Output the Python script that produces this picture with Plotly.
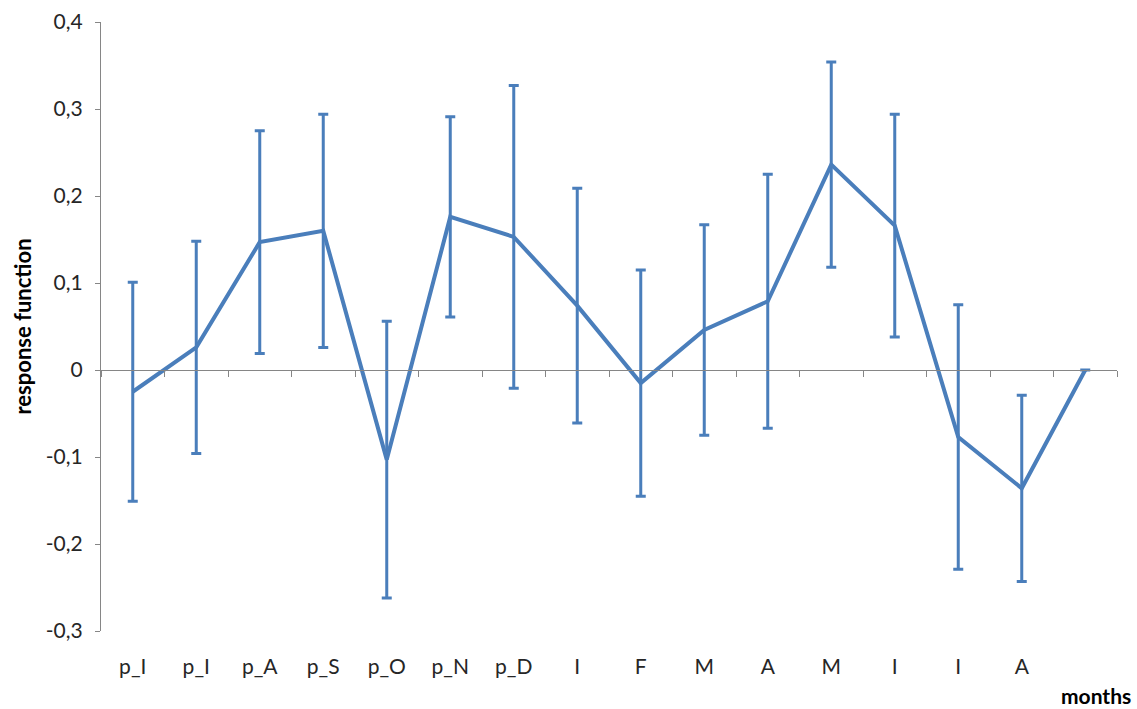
import plotly.graph_objects as go

# Monthly response function with confidence bars
months = ["p_I", "p_I", "p_A", "p_S", "p_O", "p_N", "p_D",
          "I", "F", "M", "A", "M", "I", "I", "A", ""]
response = [-0.025, 0.026, 0.147, 0.160, -0.103, 0.176, 0.153,
            0.074, -0.015, 0.046, 0.079, 0.236, 0.166, -0.077, -0.136, 0.0]
error = [0.126, 0.122, 0.128, 0.134, 0.159, 0.115, 0.174,
         0.135, 0.130, 0.121, 0.146, 0.118, 0.128, 0.152, 0.107, None]
y_ticks = [-0.3, -0.2, -0.1, 0.0, 0.1, 0.2, 0.3, 0.4]
y_labels = ["-0,3", "-0,2", "-0,1", "0", "0,1", "0,2", "0,3", "0,4"]

BLUE = "#4a7ebb"
GREY = "#868686"
FONT = "Lato"
TEXT = "#262626"

positions = list(range(len(months)))

fig = go.Figure()
fig.add_trace(go.Scatter(
    x=positions, y=response, mode="lines",
    line=dict(color=BLUE, width=4),
    error_y=dict(type="data", array=error, visible=True,
                 color=BLUE, thickness=3, width=5),
    showlegend=False, hoverinfo="skip",
))
# invisible trace carrying the zero-line axis with category boundary ticks
fig.add_trace(go.Scatter(
    x=[-0.5, len(months) - 0.5], y=[0, 0], xaxis="x2", mode="lines",
    line=dict(width=0), showlegend=False, hoverinfo="skip",
))

fig.update_layout(
    width=1137, height=709,
    margin=dict(l=101, r=20, t=22, b=78),
    paper_bgcolor="white", plot_bgcolor="white",
    font=dict(family=FONT, size=21, color=TEXT),
    xaxis=dict(
        range=[-0.5, len(months) - 0.5],
        tickmode="array", tickvals=positions, ticktext=months,
        showline=False, showgrid=False, zeroline=False, ticks="",
        ticklabelstandoff=21, automargin=False,
        tickfont=dict(family=FONT, size=21, color=TEXT),
    ),
    xaxis2=dict(
        range=[-0.5, len(months) - 0.5],
        overlaying="x", anchor="free", position=3 / 7, side="bottom",
        tickmode="array",
        tickvals=[i - 0.5 for i in range(len(months) + 1)],
        showticklabels=False, ticks="outside", ticklen=6,
        tickcolor=GREY, tickwidth=1,
        showline=True, linecolor=GREY, linewidth=1.3,
        showgrid=False, zeroline=False, automargin=False,
    ),
    yaxis=dict(
        range=[-0.3, 0.4],
        tickmode="array", tickvals=y_ticks, ticktext=y_labels,
        showline=True, linecolor=GREY, linewidth=1.3,
        ticks="outside", ticklen=5, tickcolor=GREY,
        showgrid=False, zeroline=False, automargin=False,
        ticklabelstandoff=8,
        tickfont=dict(family=FONT, size=21, color=TEXT),
        title=dict(text="<b>response function</b>",
                   font=dict(family=FONT, size=22, color="#000000"),
                   standoff=8),
    ),
    annotations=[dict(
        text="<b>months</b>", xref="paper", yref="paper",
        x=1, y=0, xanchor="right", yanchor="top",
        xshift=16, yshift=-50,
        showarrow=False,
        font=dict(family=FONT, size=21, color="#000000"),
    )],
)

fig.write_html("out.html")
